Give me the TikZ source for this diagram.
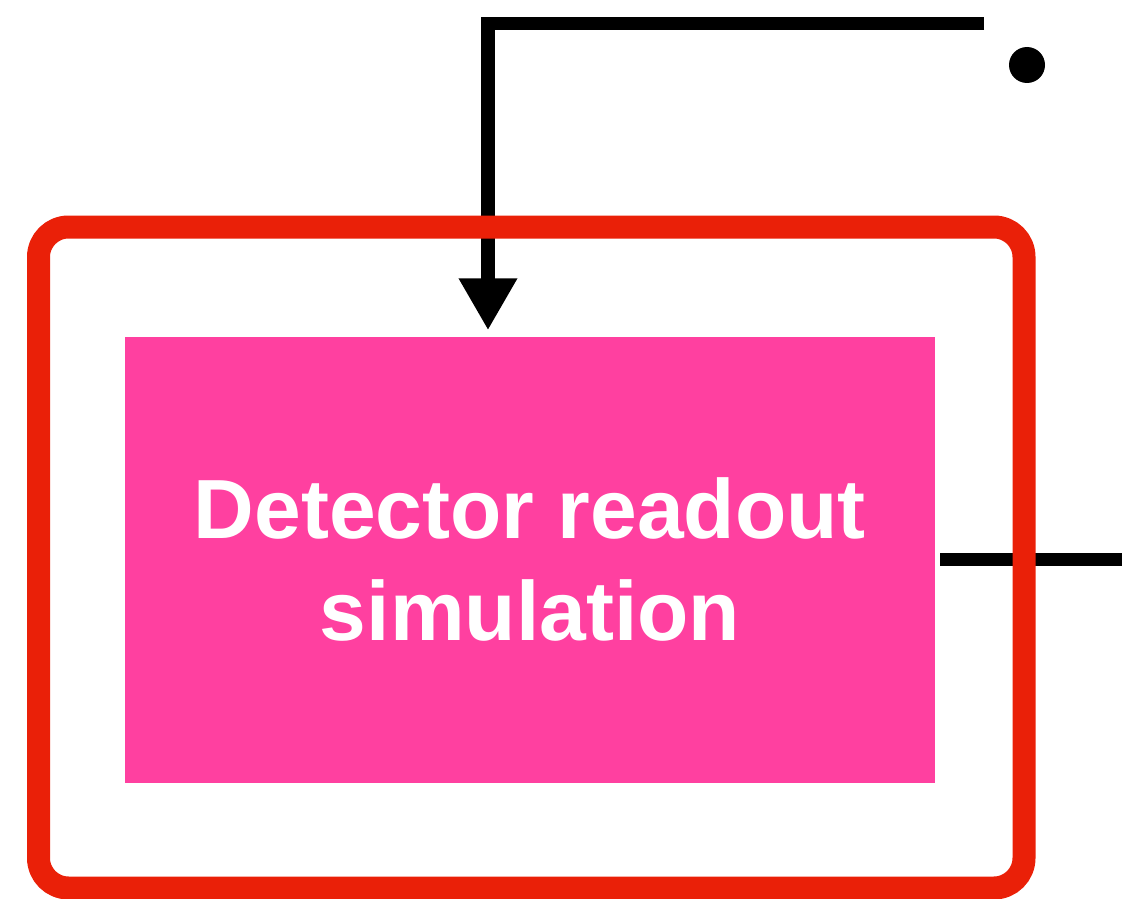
\documentclass[tikz,border=0pt]{standalone}
\usepackage{fontspec}
\setmainfont{Liberation Sans}
\usetikzlibrary{arrows.meta}
\definecolor{framered}{RGB}{234,32,8}
\definecolor{blockpink}{RGB}{255,64,160}
\begin{document}
\begin{tikzpicture}[x=1pt,y=-1pt,
  block/.style={fill=blockpink, draw=none, inner sep=0pt,
    minimum width=810pt, minimum height=446pt, align=center,
    text=white, font=\bfseries\fontsize{84}{102}\selectfont},
  frame/.style={draw=framered, line width=23pt, rounded corners=30pt,
    inner sep=0pt, minimum width=985.5pt, minimum height=661pt},
  wire/.style={draw=black, line width=13.5pt},
  dotmark/.style={circle, fill=black, inner sep=0pt, minimum size=36pt}]
\useasboundingbox (0,0) rectangle (1122,899);

% simulation block
\node[block] (sim) at (530,559.5) {Detector readout\\simulation};

% free ends of the connectors
\coordinate (feed) at (984,23.5);
\coordinate (out) at (1122,560);
\node[dotmark] (dot) at (1027,65) {};

% incoming signal, bent down onto the block
\draw[wire, -{Triangle[width=55pt,length=52pt]}]
  (feed) -| ([xshift=-42pt,yshift=6pt]sim.north);

% outgoing line to the right
\draw[wire] ([xshift=5pt]sim.east) -- (sim.east -| out);

% enclosing group frame
\node[frame] (group) at (531.25,557.5) {};
\end{tikzpicture}
\end{document}
